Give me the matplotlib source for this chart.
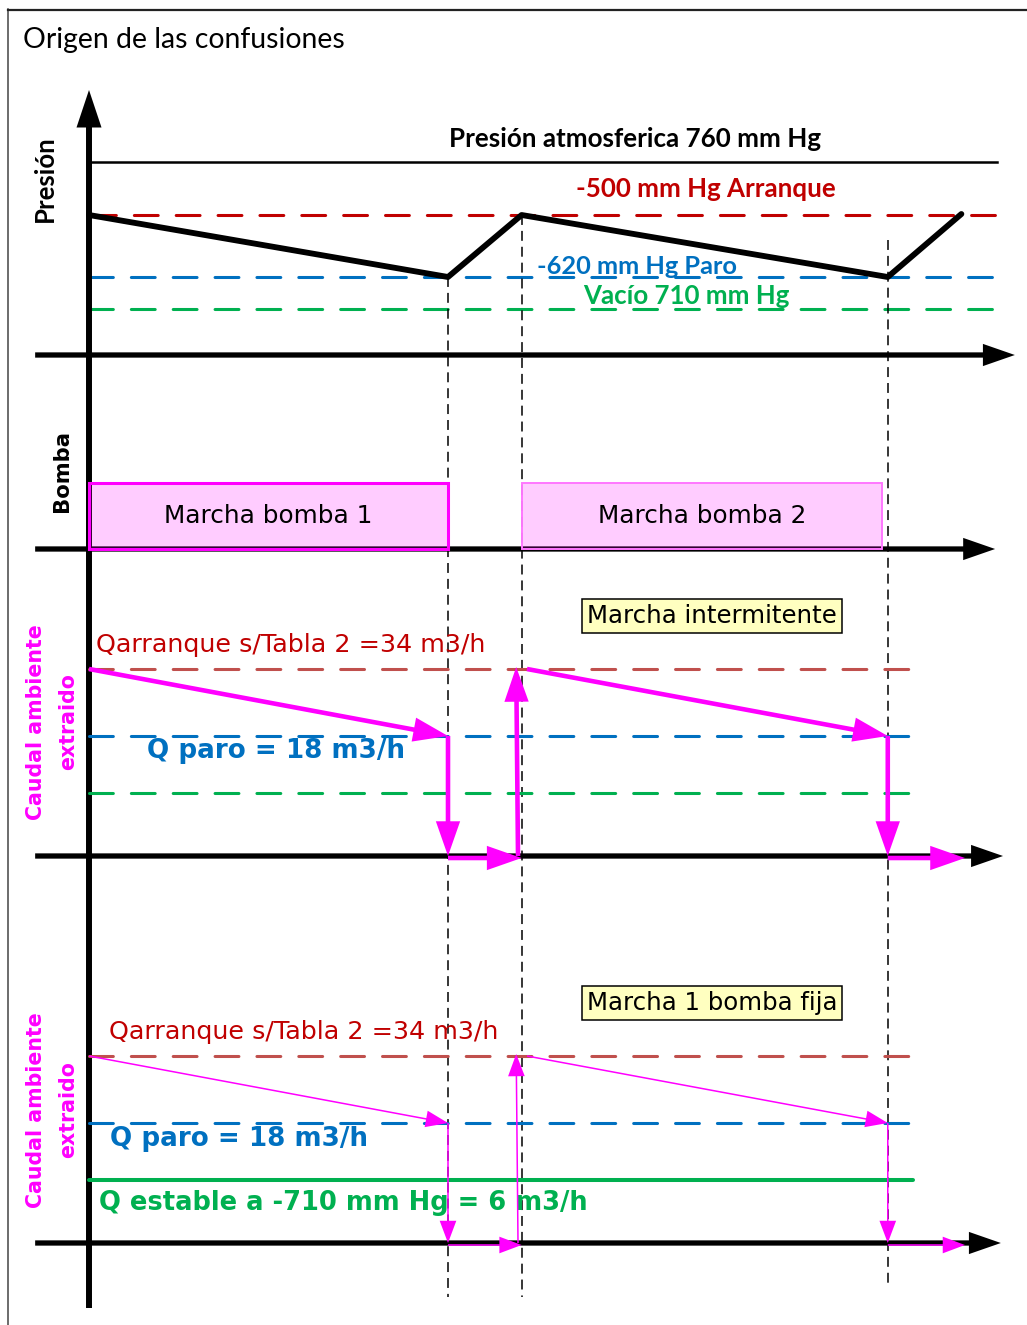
import matplotlib
matplotlib.use('Agg')
import matplotlib.pyplot as plt
from matplotlib.patches import FancyArrowPatch, Rectangle, ArrowStyle
from matplotlib.lines import Line2D

# ---------------- datos ----------------
# eje de tiempos comun (unidades arbitrarias)
t_paro1 = 10.0
t_arranque2 = 12.05
t_paro2 = 22.25
t_fin = 24.3

# presion: niveles esquematicos (altura sobre el eje)
p_atm = 19.3
p_arranque = 14.0
p_paro = 7.8
p_vacio = 4.6
t_presion = [0.0, t_paro1, t_arranque2, t_paro2, t_fin]
v_presion = [p_arranque, p_paro, p_arranque, p_paro, 14.1]

# bombas
bomba_nombres = ['Marcha bomba 1', 'Marcha bomba 2']
bomba_inicio = [0.0, t_arranque2]
bomba_fin = [10.0, 22.1]
bomba_alto = 6.6

# caudal: niveles esquematicos
q_arranque = 18.7
q_paro = 12.0
q_vacio = 6.3

# tramos de caudal (inicio -> fin) para cada flecha
flecha_t0 = [0.0, t_paro1, t_paro1, 11.95, 12.2, t_paro2, t_paro2]
flecha_q0 = [q_arranque, q_paro, -0.2, 0.0, q_arranque, q_paro, -0.2]
flecha_t1 = [t_paro1, t_paro1, t_arranque2, 11.9, t_paro2, t_paro2, 24.4]
flecha_q1 = [q_paro, 0.0, -0.2, 18.9, q_paro, 0.0, -0.2]

ROJO = '#C00000'
ROJO2 = '#C0504D'
AZUL = '#0070C0'
VERDE = '#00B050'
MAGENTA = '#FF00FF'

W, H = 1027, 1325
PX_T = 35.9          # pixeles por unidad de tiempo
X0 = 89              # pixel del origen de tiempos
fig = plt.figure(figsize=(W / 100, H / 100), dpi=100)


def panel(base_px):
    """Ejes transparentes a toda la figura con el cero en la linea base."""
    ax = fig.add_axes([0, 0, 1, 1])
    ax.set_xlim(-X0 / PX_T, (W - X0) / PX_T)
    ax.set_ylim(-(H - base_px) / 10, base_px / 10)
    ax.axis('off')
    ax.patch.set_alpha(0)
    return ax


def flecha(ax, t0, y0, t1, y1, cola, largo, ancho, color, z=5):
    estilo = ArrowStyle('Simple', head_length=largo, head_width=ancho, tail_width=cola)
    a = FancyArrowPatch((t0, y0), (t1, y1), arrowstyle=estilo, mutation_scale=1,
                        shrinkA=0, shrinkB=0, color=color, lw=0, zorder=z)
    ax.add_patch(a)


def eje_h(ax, fin):
    flecha(ax, -1.5, 0, fin, 0, 3.8, 23, 16, 'black', z=3)


def discontinua(ax, y, t0, t1, color, lw=2.2):
    ax.plot([t0, t1], [y, y], color=color, lw=lw, dashes=(7.8, 5.9),
            dash_capstyle='round', zorder=2)


# marco y titulo
fig.add_artist(Line2D([8 / W, 8 / W], [0, 1 - 9 / H], color='#444444', lw=1.1))
fig.add_artist(Line2D([8 / W, 1], [1 - 9.5 / H, 1 - 9.5 / H], color='#222222', lw=1.6))
fig.text(23 / W, 1 - 40 / H, 'Origen de las confusiones', fontsize=20.4,
         family='Lato', va='center', ha='left')

# ---------------- panel presion ----------------
ax1 = panel(355)
flecha(ax1, 0, -95.3, 0, 26.5, 4.3, 27, 18, 'black', z=3)
eje_h(ax1, 25.79)
ax1.plot([0.08, 25.29], [p_atm, p_atm], color='black', lw=1.8, zorder=2)
discontinua(ax1, p_arranque, 0.08, 25.46, ROJO)
discontinua(ax1, p_paro, 0.0, 25.46, AZUL)
discontinua(ax1, p_vacio, 0.0, 25.46, VERDE)
ax1.plot(t_presion, v_presion, color='black', lw=4.2, solid_joinstyle='round',
         solid_capstyle='round', zorder=4)

# lineas verticales de eventos
for tv, ya, yb in [(t_paro1, p_paro, -94.2), (t_arranque2, p_arranque, -94.2), (t_paro2, 11.5, -93.0)]:
    ax1.plot([tv, tv], [ya, yb], color='black', lw=1.1, dashes=(6.5, 3.9), zorder=2)

ax1.text(15.21, 21.6, 'Presión atmosferica 760 mm Hg', fontsize=18.7, fontweight='bold',
         family='Lato', ha='center', va='center')
ax1.text(17.19, 16.6, '-500 mm Hg Arranque', fontsize=18.6, fontweight='bold',
         family='Lato', color=ROJO, ha='center', va='center')
ax1.text(15.26, 8.9, '-620 mm Hg Paro', fontsize=18.3, fontweight='bold',
         family='Lato', color=AZUL, ha='center', va='center', zorder=6)
ax1.text(16.63, 5.9, 'Vacío 710 mm Hg', fontsize=18.6, fontweight='bold',
         family='Lato', color=VERDE, ha='center', va='center', zorder=6)
ax1.text(-1.23, 17.6, 'Presión', fontsize=18.5, fontweight='bold', family='Lato',
         rotation=90, ha='center', va='center')

# ---------------- panel bomba ----------------
ax2 = panel(549)
eje_h(ax2, 25.24)
bordes = [(MAGENTA, 2.2), ('#FF77FF', 1.4)]
for nombre, t0, t1, (ec, lw) in zip(bomba_nombres, bomba_inicio, bomba_fin, bordes):
    ax2.add_patch(Rectangle((t0, 0), t1 - t0, bomba_alto, facecolor=(1, 0, 1, 0.2),
                            edgecolor=ec, lw=lw, zorder=4))
    ax2.text((t0 + t1) / 2, bomba_alto / 2, nombre, fontsize=17.8, ha='center',
             va='center', zorder=5)
ax2.text(-0.75, 7.8, 'Bomba', fontsize=15.2, fontweight='bold', rotation=90,
         ha='center', va='center')

# ---------------- paneles de caudal ----------------
cajas = ['Marcha intermitente', 'Marcha 1 bomba fija']
for k, base in enumerate([856, 1243]):
    ax = panel(base)
    fin_eje = [25.46, 25.40][k]
    eje_h(ax, fin_eje)
    t_lin = [23.06, 22.95][k]
    discontinua(ax, q_arranque, 0.0, t_lin, ROJO2)
    discontinua(ax, q_paro, 0.0, t_lin, AZUL)
    if k == 0:
        discontinua(ax, q_vacio, 0.0, t_lin, VERDE)
    else:
        ax.plot([0.0, t_lin], [q_vacio, q_vacio], color=VERDE, lw=2.9,
                solid_capstyle='round', zorder=2)

    if k == 0:
        cola, largo, ancho = 3.3, 25, 17.5
    else:
        cola, largo, ancho = 1.1, 16, 12
    for t0, q0, t1, q1 in zip(flecha_t0, flecha_q0, flecha_t1, flecha_q1):
        flecha(ax, t0, q0, t1, q1, cola, largo, ancho, MAGENTA, z=6)

    ax.text(17.35, 24.0, cajas[k], fontsize=17.6, ha='center', va='center',
            bbox=dict(boxstyle='square,pad=0.2', fc='#FFFFC0', ec='black', lw=1.1))
    ax.text([0.195, 0.56][k], 21.1, 'Qarranque s/Tabla 2 =34 m3/h', fontsize=18.3,
            color=ROJO, ha='left', va='center')
    ax.text([1.62, 0.585][k], [10.5, 10.4][k], 'Q paro = 18 m3/h', fontsize=18.8,
            fontweight='bold', color=AZUL, ha='left', va='center')
    if k == 1:
        ax.text(0.28, 4.0, 'Q estable a -710 mm Hg = 6 m3/h', fontsize=18.5,
                fontweight='bold', color=VERDE, ha='left', va='center')
    yc = [13.4, 13.3][k]
    ax.text(-53 / PX_T, yc, 'Caudal ambiente', fontsize=14.8, fontweight='bold',
            color=MAGENTA, rotation=90, ha='center', va='center')
    ax.text(-21 / PX_T, yc, 'extraido', fontsize=14.8, fontweight='bold',
            color=MAGENTA, rotation=90, ha='center', va='center')

fig.savefig('out.png', dpi=100)
